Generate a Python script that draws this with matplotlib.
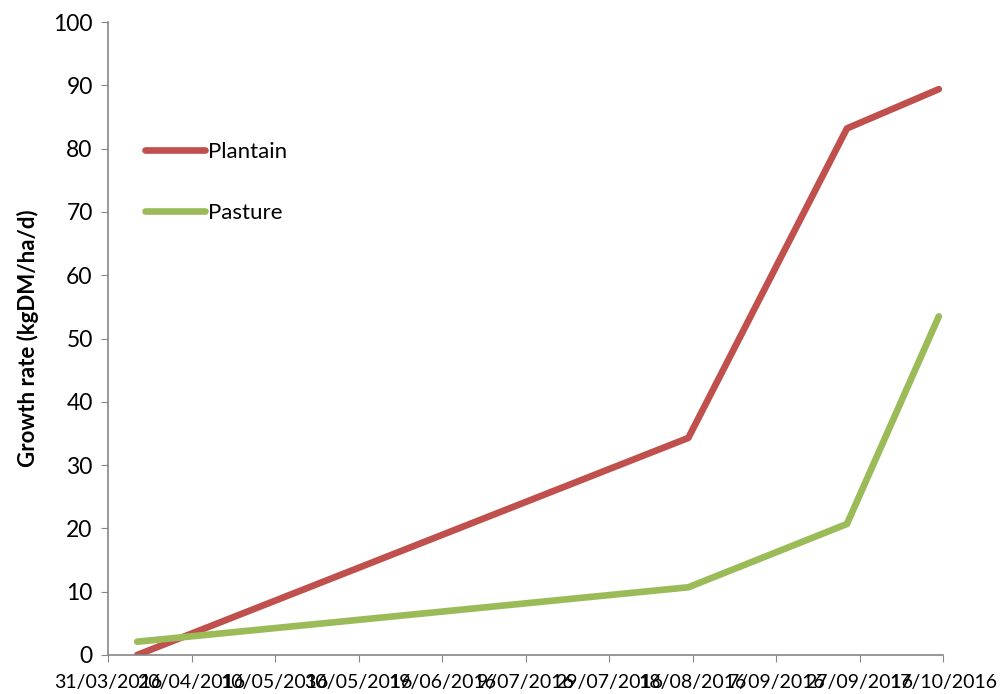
import matplotlib
matplotlib.use("Agg")
import matplotlib.pyplot as plt
import datetime as dt

dates = ["2016-04-07", "2016-08-17", "2016-09-24", "2016-10-16"]
plantain = [0.0, 34.3, 83.2, 89.4]
pasture = [2.1, 10.7, 20.7, 53.5]
tick_dates = ["2016-03-31", "2016-04-20", "2016-05-10", "2016-05-30", "2016-06-19",
              "2016-07-09", "2016-07-29", "2016-08-18", "2016-09-07", "2016-09-27", "2016-10-17"]

plt.rcParams['font.family'] = ['Lato', 'DejaVu Sans']

x = [dt.datetime.strptime(d, "%Y-%m-%d") for d in dates]
xt = [dt.datetime.strptime(d, "%Y-%m-%d") for d in tick_dates]
labels = [f"{d.day}/{d.month:02d}/{d.year}" for d in xt]

fig = plt.figure(figsize=(10, 6.94), dpi=100)
ax = fig.add_axes([0.108, 0.0562, 0.835, 0.912])

ax.plot(x, plantain, color="#C0504D", lw=4.8, solid_capstyle="round", solid_joinstyle="round", label="Plantain")
ax.plot(x, pasture, color="#9BBB59", lw=4.8, solid_capstyle="round", solid_joinstyle="round", label="Pasture")

ax.set_xlim(xt[0], xt[-1])
ax.set_ylim(0, 100)
ax.set_yticks(range(0, 101, 10))
ax.set_xticks(xt)
ax.set_xticklabels(labels, fontsize=14)
ax.tick_params(axis='y', labelsize=16.5, length=5, color="#868686", pad=6)
ax.tick_params(axis='x', length=5, color="#868686", pad=9)
for s in ["top", "right"]:
    ax.spines[s].set_visible(False)
for s in ["left", "bottom"]:
    ax.spines[s].set_color("#868686")
    ax.spines[s].set_linewidth(1.2)

ax.set_ylabel("Growth rate (kgDM/ha/d)", fontsize=16, fontweight="bold", labelpad=10)

leg = ax.legend(loc="upper left", bbox_to_anchor=(0.02, 0.842), frameon=False, fontsize=16,
                handlelength=2.7, handletextpad=0.15, labelspacing=1.85)

fig.savefig("out.png", dpi=100)
